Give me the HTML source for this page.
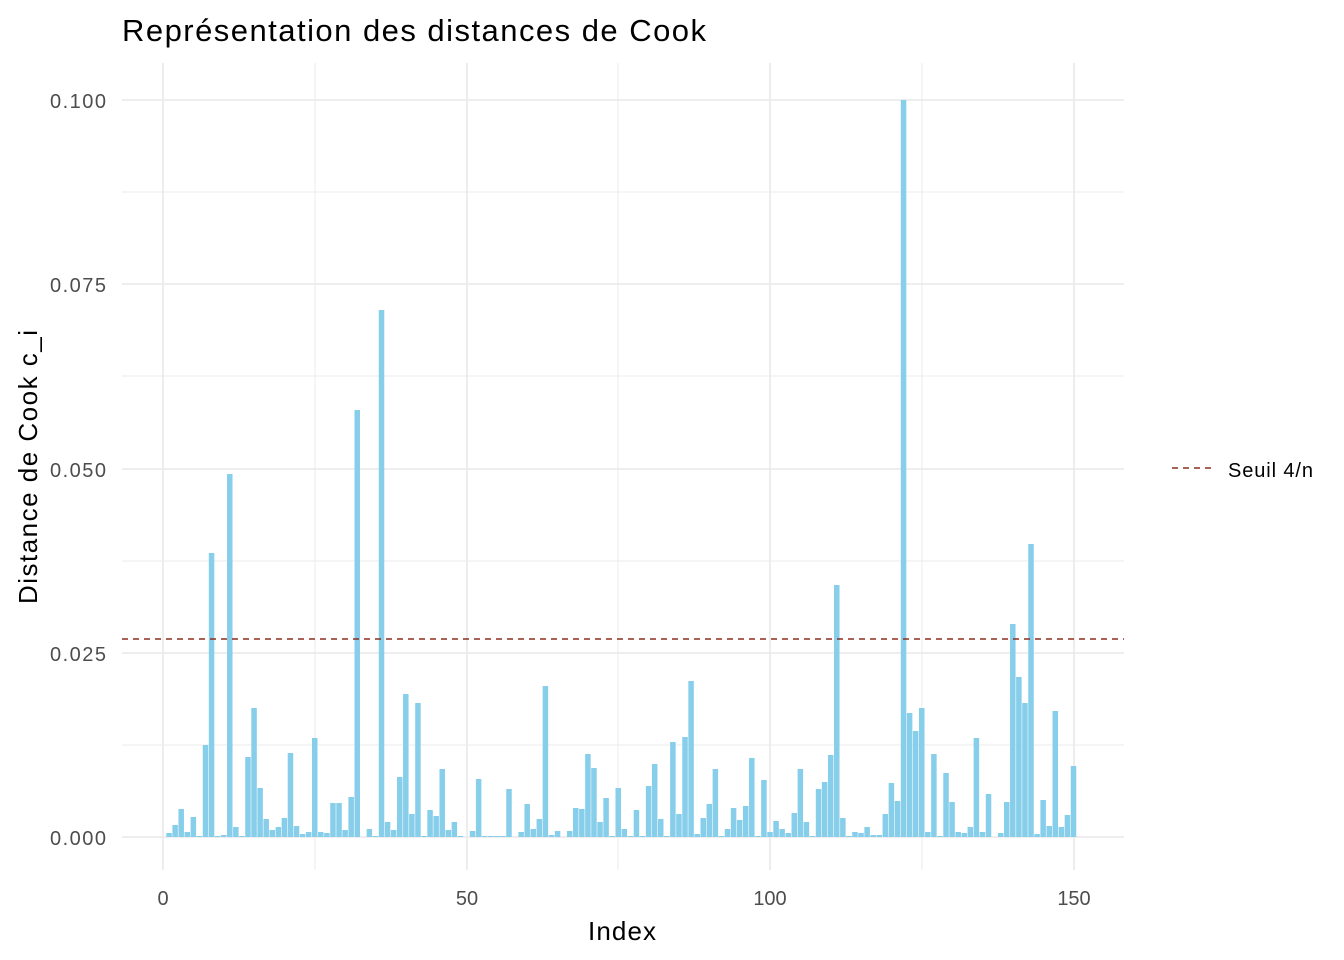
<!DOCTYPE html>
<html><head><meta charset="utf-8"><style>
body{margin:0;background:#fff;}
svg{display:block;font-family:"Liberation Sans",Arial,sans-serif;}
</style></head><body>
<svg id="s" width="1344" height="960" xmlns="http://www.w3.org/2000/svg">
<rect width="1344" height="960" fill="#fff"/>
<g stroke="#ebebeb" stroke-width="1">
<line x1="122" x2="1124" y1="745" y2="745"/><line x1="122" x2="1124" y1="561" y2="561"/>
<line x1="122" x2="1124" y1="376" y2="376"/><line x1="122" x2="1124" y1="192" y2="192"/>
<line x1="315" x2="315" y1="63" y2="870"/><line x1="618" x2="618" y1="63" y2="870"/><line x1="922" x2="922" y1="63" y2="870"/>
</g>
<g stroke="#ebebeb" stroke-width="1.8">
<line x1="122" x2="1124" y1="837" y2="837"/><line x1="122" x2="1124" y1="653" y2="653"/>
<line x1="122" x2="1124" y1="469" y2="469"/><line x1="122" x2="1124" y1="284" y2="284"/>
<line x1="122" x2="1124" y1="100" y2="100"/>
<line x1="163" x2="163" y1="63" y2="870"/><line x1="467" x2="467" y1="63" y2="870"/>
<line x1="770" x2="770" y1="63" y2="870"/><line x1="1074" x2="1074" y1="63" y2="870"/>
</g>
<g id="bars" fill="#87ceeb"></g>
<line x1="122" x2="1124" y1="639" y2="639" stroke="#8b2e1e" stroke-width="1.6" stroke-dasharray="6,5"/>
<g font-size="20" fill="#4d4d4d" text-anchor="end">
<text x="106" y="845" textLength="56">0.000</text><text x="106" y="661" textLength="56">0.025</text>
<text x="106" y="477" textLength="56">0.050</text><text x="106" y="292" textLength="56">0.075</text><text x="106" y="108" textLength="56">0.100</text>
</g>
<g font-size="20" fill="#4d4d4d" text-anchor="middle">
<text x="163" y="905">0</text><text x="467" y="905">50</text><text x="770" y="905">100</text><text x="1074" y="905">150</text>
</g>
<text x="588" y="940" font-size="26" fill="#000" textLength="68">Index</text>
<text transform="translate(37,604) rotate(-90)" font-size="26" fill="#000" textLength="274">Distance de Cook c_i</text>
<text x="122" y="41" font-size="31" fill="#000" textLength="584">Représentation des distances de Cook</text>
<line x1="1172" x2="1212" y1="468" y2="468" stroke="#8b2e1e" stroke-width="1.6" stroke-dasharray="6,5"/>
<text x="1228" y="477" font-size="20" fill="#000" textLength="85">Seuil 4/n</text>
</svg>
<script>
var t=[833,825,809,832,817,836,745,553,836,835,474,827,836,757,708,788,819,830,827,818,753,826,834,832,738,832,833,803,803,830,797,410,837,829,836,310,822,830,777,694,814,703,836,810,816,769,830,822,836,837,831,779,836,836,836,836,789,837,832,804,829,819,686,835,831,837,831,808,809,754,768,822,798,836,788,829,836,810,836,786,764,819,836,742,814,737,681,834,818,804,769,836,829,808,820,806,758,836,780,832,821,829,833,813,769,822,836,789,782,755,585,818,836,832,833,827,835,835,814,783,801,100,713,731,708,832,754,836,773,802,832,833,827,738,832,794,837,833,802,624,677,703,544,834,800,826,711,827,815,766];
var g=document.getElementById('bars'),h='';
for(var i=0;i<150;i++){var x=163+6.07*(i+1)-2.75;var y=t[i];if(y>=837)continue;h+='<rect x="'+x.toFixed(2)+'" y="'+y+'" width="5.5" height="'+(837-y)+'"/>';}
g.innerHTML=h;
</script>
</body></html>
